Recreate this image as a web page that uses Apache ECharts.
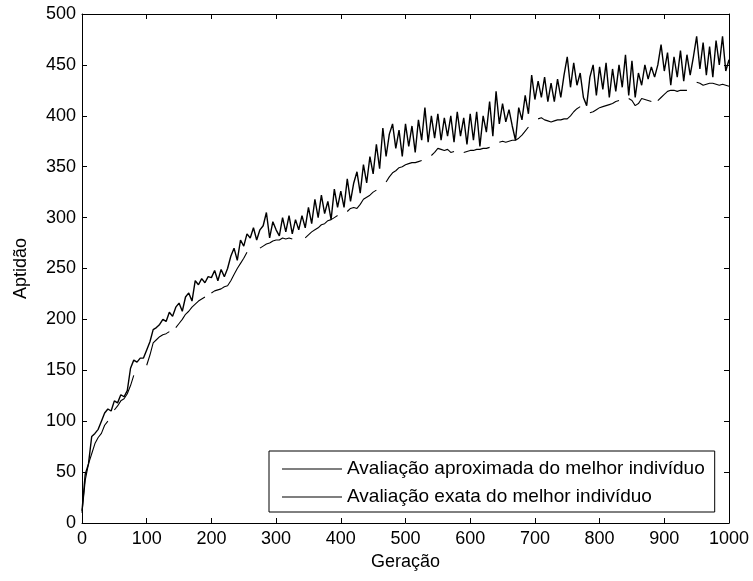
<!DOCTYPE html>
<html>
<head>
<meta charset="utf-8">
<title>Aptidão x Geração</title>
<script src="https://cdn.jsdelivr.net/npm/echarts@6/dist/echarts.min.js"></script>
<style>
  html, body { margin: 0; padding: 0; background: #fff; }
  #chart { width: 753px; height: 581px; }
</style>
</head>
<body>
<div id="chart"></div>
<script>
// geração amostrada a cada 5
var step = 5;
var generations = [];
for (var g = 0; g <= 1000; g += step) generations.push(g);

// avaliação aproximada do melhor indivíduo
var approxBest = [
  12, 48, 58, 85, 88, 92, 100, 108, 112, 110, 120, 118, 126, 124, 130, 152, 160, 158, 162, 162,
  170, 178, 190, 192, 195, 200, 198, 207, 203, 212, 216, 208, 222, 226, 218, 238, 234, 240, 236, 242,
  241, 248, 238, 249, 242, 250, 262, 270, 258, 278, 272, 284, 280, 290, 278, 288, 292, 305, 280, 296,
  288, 282, 300, 286, 302, 284, 298, 288, 302, 290, 310, 294, 318, 300, 322, 304, 316, 298, 328, 310,
  326, 310, 338, 316, 334, 345, 324, 352, 334, 360, 343, 372, 348, 388, 360, 382, 392, 368, 386, 360,
  392, 370, 390, 364, 396, 376, 408, 374, 400, 378, 402, 376, 398, 380, 400, 374, 404, 380, 398, 372,
  402, 376, 404, 370, 400, 384, 414, 380, 424, 392, 412, 394, 406, 390, 376, 408, 396, 420, 402, 440,
  416, 434, 418, 438, 414, 432, 414, 436, 418, 440, 458, 428, 452, 430, 442, 418, 410, 438, 450, 420,
  448, 426, 452, 418, 446, 424, 450, 428, 460, 420, 454, 418, 442, 430, 450, 436, 448, 438, 450, 470,
  444, 462, 430, 458, 438, 464, 434, 460, 440, 458, 478, 446, 472, 440, 468, 438, 474, 450, 478, 444,
  455
];

// avaliação exata do melhor indivíduo (null = trecho sem linha)
var exactBest = [
  10, 42, 58, 68, 78, 84, 88, 96, 100, null, 111, 115, 120, 122, 127, 135, 145, null, null, null,
  155, 165, 177, 180, 183, 185, 186, 188, null, 192, 196, 200, 205, 208, 212, 215, 218, 220, 222, null,
  226, 228, 229, 230, 232, 233, 238, 244, 250, 255, 260, 266, null, null, null, 270, 272, 274, 275, 277,
  278, 278, 280, 279, 280, 279, null, null, null, 280, 283, 286, 288, 290, 293, 294, 297, 298, 300, 302,
  null, null, 306, 309, 310, 309, 313, 318, 320, 322, 325, 327, null, null, 335, 340, 344, 346, 349, 350,
  352, 353, 354, 354, 355, 356, null, null, 361, 364, 368, 367, 366, 367, 364, 365, null, null, 364, 365,
  366, 366, 367, 367, 368, 368, 369, null, null, 374, 375, 374, 375, 376, 376, 378, 381, 385, 389, null,
  null, 397, 398, 396, 395, 394, 395, 396, 396, 397, 397, 400, 404, 407, 409, null, null, 403, 404, 406,
  408, 409, 410, 411, 412, 414, 415, null, null, 417, 415, 410, 412, 417, 416, 415, 414, null, 415, 418,
  421, 424, 425, 425, 424, 425, 425, 425, null, null, 433, 432, 430, 431, 432, 432, 431, 430, 431, 430,
  429
];

var seriesNames = ['Avaliação aproximada do melhor indivíduo', 'Avaliação exata do melhor indivíduo'];

function pairs(values) {
    return generations.map(function (g, i) { return [g, values[i]]; });
}

var font = '"Liberation Sans", Arial, Helvetica, sans-serif';

function xAxisCfg(pos, showLabels) {
    return {
        type: 'value',
        position: pos,
        min: 0,
        max: 1000,
        interval: 100,
        name: showLabels ? 'Geração' : '',
        nameLocation: 'middle',
        nameGap: 27,
        nameTextStyle: { color: '#000', fontSize: 18, fontFamily: font },
        axisLine: { show: true, onZero: false, lineStyle: { color: '#000', width: 1 } },
        axisTick: { show: true, inside: true, length: 5, lineStyle: { color: '#000' } },
        axisLabel: {
            show: showLabels, color: '#000', fontSize: 18, fontFamily: font, margin: 7,
            formatter: function (v) { return String(v); }
        },
        splitLine: { show: false }
    };
}

function yAxisCfg(pos, showLabels) {
    return {
        type: 'value',
        position: pos,
        min: 0,
        max: 500,
        interval: 50,
        name: showLabels ? 'Aptidão' : '',
        nameLocation: 'middle',
        nameGap: 52,
        nameTextStyle: { color: '#000', fontSize: 18, fontFamily: font },
        axisLine: { show: true, onZero: false, lineStyle: { color: '#000', width: 1 } },
        axisTick: { show: true, inside: true, length: 5, lineStyle: { color: '#000' } },
        axisLabel: { show: showLabels, color: '#000', fontSize: 18, fontFamily: font, margin: 6 },
        splitLine: { show: false }
    };
}

var myChart = echarts.init(document.getElementById('chart'));
var option = {
    backgroundColor: '#fff',
    animation: false,
    grid: {
        left: 82,
        right: 24,
        top: 14,
        bottom: 58,
        containLabel: false
    },
    legend: {
        orient: 'vertical',
        left: 269,
        top: 451,
        padding: [7, 10, 4, 13],
        itemGap: 6,
        itemWidth: 60,
        itemHeight: 1,
        icon: 'rect',
        backgroundColor: '#fff',
        borderColor: '#000',
        borderWidth: 1,
        borderRadius: 0,
        textStyle: { color: '#000', fontSize: 19, fontFamily: font, lineHeight: 22 },
        data: seriesNames
    },
    xAxis: [xAxisCfg('bottom', true), xAxisCfg('top', false)],
    yAxis: [yAxisCfg('left', true), yAxisCfg('right', false)],
    series: [{
        name: seriesNames[0],
        type: 'line',
        data: pairs(approxBest),
        symbol: 'none',
        color: '#000',
        lineStyle: { color: '#000', width: 1.4 }
    }, {
        name: seriesNames[1],
        type: 'line',
        data: pairs(exactBest),
        symbol: 'none',
        connectNulls: false,
        color: '#000',
        lineStyle: { color: '#000', width: 1.1 }
    }]
};
myChart.setOption(option);
window.addEventListener('resize', function () {
    myChart.resize();
});
</script>
</body>
</html>
